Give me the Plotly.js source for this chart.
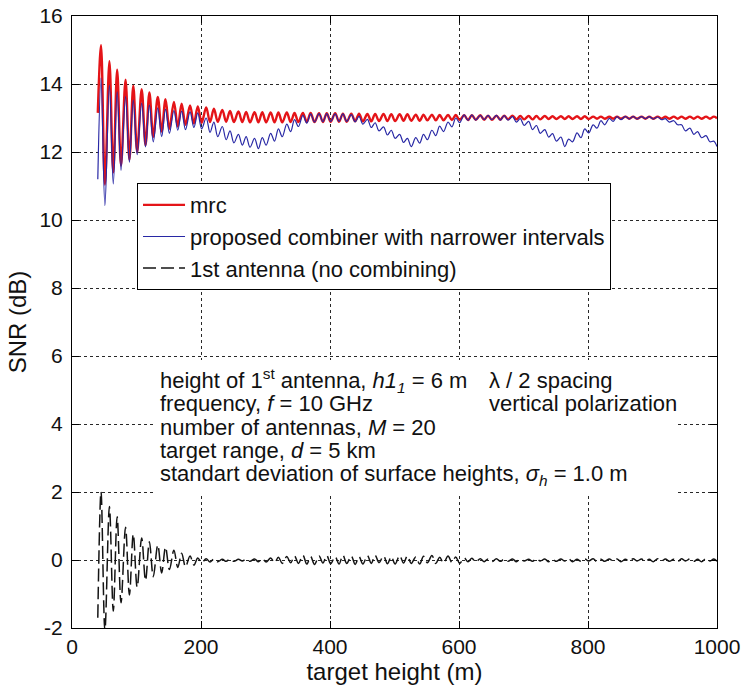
<!DOCTYPE html>
<html>
<head>
<meta charset="utf-8">
<script src="https://cdn.plot.ly/plotly-3.0.1.min.js"></script>
<style>html,body{margin:0;padding:0;background:#fff;}#chart{width:748px;height:690px;}</style>
</head>
<body>
<div id="chart"></div>
<script>
// target height (m) at the turning points of the curves
const height = [40,
45,51,58,64, 70,76,83,89, 95,101,108,114, 120,126,133,139, 145,151,158,164,
170,176,183,189, 195,201,208,214, 220,226,233,239, 245,251,258,264, 270,276,283,289,
295,301,308,314, 320,326,333,339, 345,351,358,364, 370,376,383,389, 395,401,408,414,
420,426,433,439, 445,451,458,464, 470,476,483,489, 495,501,508,514, 520,526,533,539,
545,551,558,564, 570,576,583,589, 595,601,608,614, 620,626,633,639, 645,651,658,664,
670,676,683,689, 695,701,708,714, 720,726,733,739, 745,751,758,764, 770,776,783,789,
795,801,808,814, 820,826,833,839, 845,851,858,864, 870,876,883,889, 895,901,908,914,
920,926,933,939, 945,951,958,964, 970,976,983,989,
995,1000];

// SNR (dB), mrc
const snrMrc = [13.15,
15.14,11.04,14.67,11.40, 14.42,11.60,14.13,11.77, 13.95,12.00,13.85,12.20, 13.75,12.45,13.62,12.60, 13.55,12.68,13.47,12.75,
13.42,12.80,13.37,12.84, 13.34,12.86,13.31,12.88, 13.27,12.89,13.24,12.89, 13.21,12.88,13.19,12.88, 13.18,12.87,13.17,12.87,
13.17,12.87,13.16,12.87, 13.16,12.87,13.16,12.88, 13.15,12.88,13.15,12.88, 13.15,12.88,13.14,12.88, 13.14,12.89,13.14,12.89,
13.13,12.89,13.13,12.90, 13.13,12.90,13.12,12.90, 13.12,12.91,13.12,12.91, 13.11,12.91,13.11,12.92, 13.11,12.92,13.10,12.92,
13.10,12.93,13.10,12.93, 13.09,12.93,13.09,12.94, 13.09,12.94,13.08,12.94, 13.08,12.95,13.08,12.95, 13.07,12.95,13.07,12.95,
13.07,12.96,13.07,12.96, 13.06,12.96,13.06,12.96, 13.06,12.96,13.06,12.97, 13.05,12.97,13.05,12.97, 13.05,12.97,13.05,12.97,
13.05,12.97,13.04,12.98, 13.04,12.98,13.04,12.98, 13.04,12.98,13.04,12.98, 13.04,12.98,13.04,12.98, 13.04,12.98,13.04,12.98,
13.04,12.98,13.04,12.98, 13.04,12.98,13.04,12.98, 13.04,12.98,13.04,12.98,
13.04,12.99];

// SNR (dB), proposed combiner with narrower intervals
const snrProposed = [11.20,
14.18,10.42,13.97,11.06, 13.77,11.46,13.63,11.70, 13.53,11.92,13.44,12.15, 13.38,12.30,13.30,12.45, 13.26,12.55,13.22,12.64,
13.20,12.66,13.18,12.72, 13.15,12.68,13.00,12.58, 12.88,12.45,12.75,12.36, 12.62,12.27,12.52,12.20, 12.45,12.14,12.40,12.10,
12.42,12.20,12.55,12.32, 12.68,12.45,12.82,12.60, 12.95,12.75,13.08,12.85, 13.12,12.88,13.13,12.89, 13.13,12.90,13.12,12.90,
13.12,12.90,13.10,12.89, 13.05,12.82,12.96,12.72, 12.86,12.62,12.74,12.50, 12.64,12.40,12.52,12.28, 12.40,12.16,12.42,12.26,
12.52,12.36,12.64,12.48, 12.76,12.60,12.88,12.74, 13.00,12.86,13.09,12.93, 13.09,12.94,13.08,12.95, 13.08,12.95,13.08,12.94,
13.07,12.94,13.04,12.88, 12.98,12.78,12.90,12.66, 12.78,12.55,12.66,12.44, 12.54,12.32,12.44,12.16, 12.38,12.30,12.56,12.42,
12.68,12.56,12.80,12.70, 12.92,12.80,12.99,12.90, 13.04,12.95,13.05,12.97, 13.05,12.97,13.04,12.98, 13.04,12.97,13.03,12.95,
12.98,12.88,12.92,12.80, 12.80,12.62,12.70,12.52, 12.60,12.42,12.48,12.30,
12.32,12.16];

// SNR (dB), 1st antenna (no combining)
const snrFirst = [-1.70,
2.00,-2.08,1.57,-1.50, 1.27,-1.26,0.96,-1.03, 0.76,-0.80,0.65,-0.60, 0.54,-0.49,0.44,-0.38, 0.38,-0.28,0.29,-0.22,
0.20,-0.20,0.12,-0.15, 0.06,-0.08,0.04,-0.06, 0.03,-0.05,0.02,-0.04, 0.03,-0.04,0.02,-0.03, 0.02,-0.04,0.03,-0.05,
0.04,-0.06,0.06,-0.08, 0.08,-0.10,0.10,-0.08, 0.12,-0.10,0.14,-0.12, 0.10,-0.13,0.12,-0.09, 0.13,-0.11,0.10,-0.12,
0.14,-0.10,0.12,-0.13, 0.10,-0.12,0.13,-0.10, 0.14,-0.08,0.12,-0.11, 0.10,-0.12,0.13,-0.09, 0.12,-0.10,0.09,-0.12,
0.11,-0.08,0.13,-0.10, 0.08,-0.09,0.12,-0.07, 0.09,-0.10,0.06,-0.05, 0.05,-0.06,0.04,-0.05, 0.03,-0.05,0.04,-0.04,
0.02,-0.04,0.03,-0.05, 0.03,-0.03,0.02,-0.04, 0.04,-0.03,0.03,-0.05, 0.02,-0.04,0.03,-0.03, 0.04,-0.05,0.02,-0.04,
0.03,-0.03,0.04,-0.05, 0.02,-0.04,0.03,-0.03, 0.03,-0.05,0.02,-0.04, 0.04,-0.03,0.03,-0.04, 0.02,-0.05,0.04,-0.03,
0.03,-0.04,0.02,-0.05, 0.04,-0.03,0.03,-0.04, 0.02,-0.05,0.04,-0.03,
0.03,-0.04];

const seriesNames = ["mrc", "proposed combiner with narrower intervals", "1st antenna (no combining)"];
const xTicks = [0, 200, 400, 600, 800, 1000];
const yTicks = [-2, 0, 2, 4, 6, 8, 10, 12, 14, 16];
const yTickText = ["-2", "0", "2", "4", "6", "8", "10", "12", "14", "16"];
const noteLeft = [
  "height of 1<sup>st</sup> antenna, <i>h1</i><sub><i>1</i></sub> = 6 m",
  "frequency, <i>f</i> = 10 GHz",
  "number of antennas, <i>M</i> = 20",
  "target range, <i>d</i> = 5 km",
  "standart deviation of surface heights, <i>σ</i><sub><i>h</i></sub> = 1.0 m"
];
const noteRight = ["λ / 2 spacing", "vertical polarization"];

const FONT = 'Arial, "Liberation Sans", Helvetica, sans-serif';

const traces = [
  {x: height, y: snrMrc, name: seriesNames[0], type: 'scatter', mode: 'lines',
   line: {color: 'rgb(228,20,24)', width: 2.4, shape: 'spline', smoothing: 1}},
  {x: height, y: snrProposed, name: seriesNames[1], type: 'scatter', mode: 'lines',
   line: {color: 'rgb(40,40,165)', width: 1.2, shape: 'spline', smoothing: 1}},
  {x: height, y: snrFirst, name: seriesNames[2], type: 'scatter', mode: 'lines',
   line: {color: 'rgb(20,20,20)', width: 1.5, dash: '13px,5px', shape: 'spline', smoothing: 1}}
];

// text block rows (data units) and column positions
const rowY = [5.29, 4.59, 3.91, 3.21, 2.50];
const annotations = [];
noteLeft.forEach((t, i) => annotations.push({
  text: t, xref: 'x', yref: 'y', x: 133, y: rowY[i], xanchor: 'left', yanchor: 'middle',
  showarrow: false, font: {family: FONT, size: 22, color: '#111'}
}));
noteRight.forEach((t, i) => annotations.push({
  text: t, xref: 'x', yref: 'y', x: 643, y: rowY[i], xanchor: 'left', yanchor: 'middle',
  showarrow: false, font: {family: FONT, size: 22, color: '#111'}
}));

const axisCommon = {
  showline: true, linecolor: '#000', linewidth: 1, mirror: 'ticks',
  ticks: 'inside', ticklen: 7, tickcolor: '#000', tickwidth: 1,
  showgrid: true, gridcolor: 'rgb(40,40,40)', gridwidth: 1, griddash: 'dot',
  zeroline: false, tickfont: {family: FONT, size: 21, color: '#111'}
};

const layout = {
  width: 748, height: 690,
  margin: {l: 72, r: 31, t: 16, b: 62},
  paper_bgcolor: '#fff', plot_bgcolor: '#fff',
  font: {family: FONT, color: '#111'},
  xaxis: Object.assign({}, axisCommon, {
    range: [0, 1000], tickmode: 'array', tickvals: xTicks,
    title: {text: 'target height (m)', font: {family: FONT, size: 24, color: '#111'}, standoff: 4}
  }),
  yaxis: Object.assign({}, axisCommon, {
    range: [-2, 16], tickmode: 'array', tickvals: yTicks, ticktext: yTickText,
    ticklabelstandoff: 4,
    title: {text: 'SNR (dB)', font: {family: FONT, size: 24, color: '#111'}, standoff: 6}
  }),
  showlegend: true,
  legend: {
    x: 0.1008, y: 0.727, xanchor: 'left', yanchor: 'top',
    bgcolor: '#fff', bordercolor: '#000', borderwidth: 1,
    font: {family: FONT, size: 22, color: '#111'},
    itemwidth: 42, tracegroupgap: 0
  },
  shapes: [{
    type: 'rect', xref: 'x', yref: 'y', x0: 129, x1: 935, y0: 1.88, y1: 5.88,
    fillcolor: '#fff', line: {width: 0}, layer: 'between'
  }],
  annotations: annotations
};

Plotly.newPlot('chart', traces, layout, {displayModeBar: false, staticPlot: true});
</script>
</body>
</html>
